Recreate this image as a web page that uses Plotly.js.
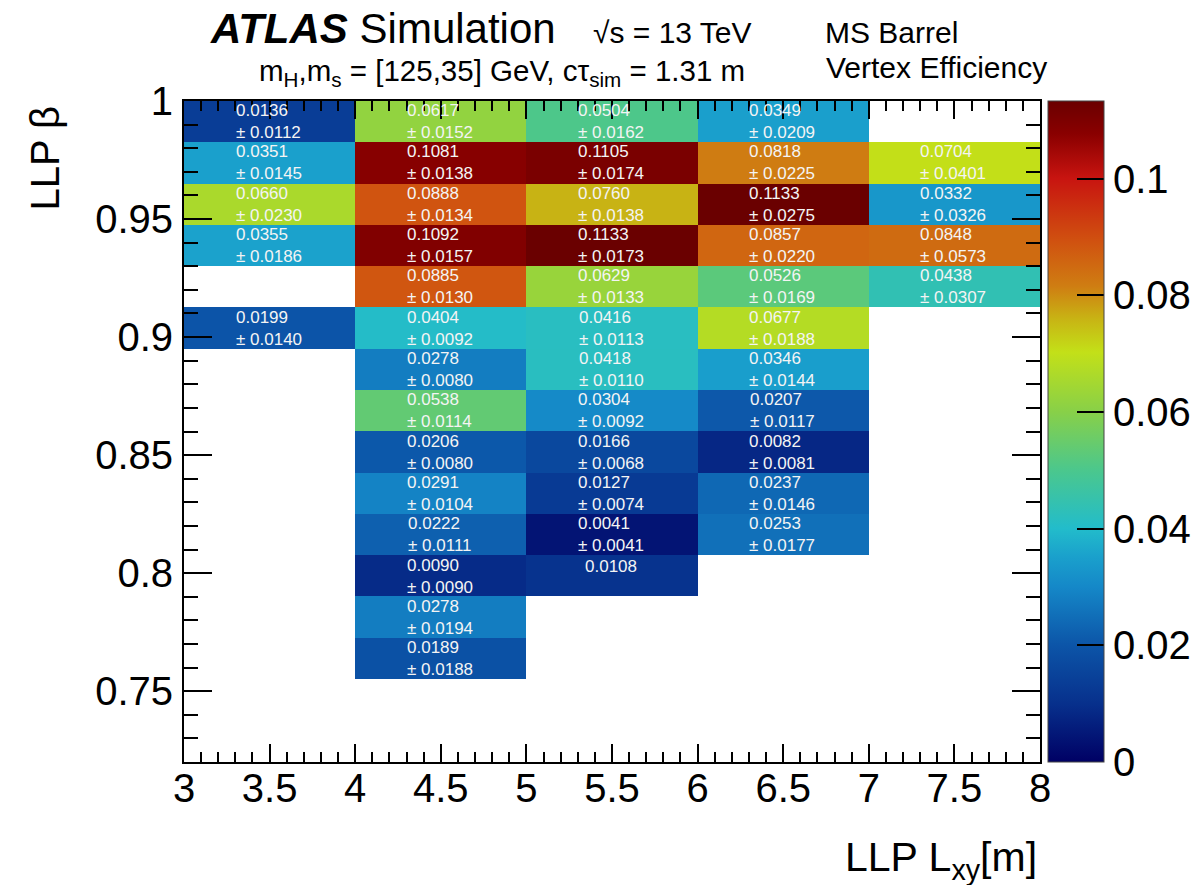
<!DOCTYPE html>
<html>
<head>
<meta charset="utf-8">
<script src="https://cdn.plot.ly/plotly-3.0.1.min.js"></script>
<style>html,body{margin:0;padding:0;background:#fff;}#chart{width:1195px;height:885px;}</style>
</head>
<body>
<div id="chart"></div>
<script>
// Bin edges
const xEdges = [3, 4, 5, 6, 7, 8];
const yEdges = [0.755, 0.7725, 0.79, 0.8075, 0.825, 0.8425, 0.86, 0.8775, 0.895, 0.9125, 0.93, 0.9475, 0.965, 0.9825, 1.0];

// Efficiency values, rows from bottom (beta 0.755) to top (beta 1.0); columns Lxy 3-4 ... 7-8
const effRow01 = [null, 0.0189, null, null, null];
const effRow02 = [null, 0.0278, null, null, null];
const effRow03 = [null, 0.0090, 0.0108, null, null];
const effRow04 = [null, 0.0222, 0.0041, 0.0253, null];
const effRow05 = [null, 0.0291, 0.0127, 0.0237, null];
const effRow06 = [null, 0.0206, 0.0166, 0.0082, null];
const effRow07 = [null, 0.0538, 0.0304, 0.0207, null];
const effRow08 = [null, 0.0278, 0.0418, 0.0346, null];
const effRow09 = [0.0199, 0.0404, 0.0416, 0.0677, null];
const effRow10 = [null, 0.0885, 0.0629, 0.0526, 0.0438];
const effRow11 = [0.0355, 0.1092, 0.1133, 0.0857, 0.0848];
const effRow12 = [0.0660, 0.0888, 0.0760, 0.1133, 0.0332];
const effRow13 = [0.0351, 0.1081, 0.1105, 0.0818, 0.0704];
const effRow14 = [0.0136, 0.0617, 0.0504, 0.0349, null];

// Uncertainties, same layout
const errRow01 = [null, 0.0188, null, null, null];
const errRow02 = [null, 0.0194, null, null, null];
const errRow03 = [null, 0.0090, null, null, null];
const errRow04 = [null, 0.0111, 0.0041, 0.0177, null];
const errRow05 = [null, 0.0104, 0.0074, 0.0146, null];
const errRow06 = [null, 0.0080, 0.0068, 0.0081, null];
const errRow07 = [null, 0.0114, 0.0092, 0.0117, null];
const errRow08 = [null, 0.0080, 0.0110, 0.0144, null];
const errRow09 = [0.0140, 0.0092, 0.0113, 0.0188, null];
const errRow10 = [null, 0.0130, 0.0133, 0.0169, 0.0307];
const errRow11 = [0.0186, 0.0157, 0.0173, 0.0220, 0.0573];
const errRow12 = [0.0230, 0.0134, 0.0138, 0.0275, 0.0326];
const errRow13 = [0.0145, 0.0138, 0.0174, 0.0225, 0.0401];
const errRow14 = [0.0112, 0.0152, 0.0162, 0.0209, null];

const colorTicks = [0, 0.02, 0.04, 0.06, 0.08, 0.1];
const xTicks = [3, 3.5, 4, 4.5, 5, 5.5, 6, 6.5, 7, 7.5, 8];
const yTicks = [0.75, 0.8, 0.85, 0.9, 0.95, 1];

const z = [effRow01, effRow02, effRow03, effRow04, effRow05, effRow06, effRow07,
           effRow08, effRow09, effRow10, effRow11, effRow12, effRow13, effRow14];
const e = [errRow01, errRow02, errRow03, errRow04, errRow05, errRow06, errRow07,
           errRow08, errRow09, errRow10, errRow11, errRow12, errRow13, errRow14];

let zMax = 0;
z.forEach(r => r.forEach(v => { if (v !== null && v > zMax) zMax = v; }));

const FONT = 'Liberation Sans, Arial, Helvetica, sans-serif';

const colorscale = [
  [0.000, '#000064'],
  [0.088, '#07308c'],
  [0.177, '#0c55a8'],
  [0.265, '#1588c8'],
  [0.310, '#1aa0cc'],
  [0.353, '#22bccb'],
  [0.440, '#4ac78e'],
  [0.530, '#88d048'],
  [0.620, '#c3e018'],
  [0.670, '#c8b414'],
  [0.720, '#cf7d12'],
  [0.790, '#d05010'],
  [0.883, '#c81410'],
  [0.950, '#8a0000'],
  [1.000, '#6a0000']
];

const heat = {
  type: 'heatmap',
  x: xEdges,
  y: yEdges,
  z: z,
  zmin: 0,
  zmax: zMax,
  colorscale: colorscale,
  hoverinfo: 'skip',
  showscale: true,
  colorbar: {
    x: 1.0093, xanchor: 'left', xpad: 0,
    y: 0.5, yanchor: 'middle', ypad: 0,
    len: 1, lenmode: 'fraction',
    thickness: 56, thicknessmode: 'pixels',
    outlinewidth: 1, outlinecolor: '#444',
    tickmode: 'array', tickvals: colorTicks,
    ticktext: colorTicks.map(v => String(v)),
    ticks: 'inside', ticklen: 27, tickwidth: 2, tickcolor: '#000',
    tickfont: {family: FONT, size: 40, color: '#000'},
    ticklabelstandoff: 0
  }
};

const annotations = [];
for (let r = 0; r < z.length; r++) {
  for (let c = 0; c < z[r].length; c++) {
    const v = z[r][c];
    if (v === null) continue;
    const err = e[r][c];
    const xc = (xEdges[c] + xEdges[c + 1]) / 2;
    const yc = (yEdges[r] + yEdges[r + 1]) / 2;
    annotations.push({
      x: xc, y: yc, xref: 'x', yref: 'y',
      text: err === null ? v.toFixed(4) : (v.toFixed(4) + '<br>± ' + err.toFixed(4)),
      showarrow: false, align: 'left', xanchor: 'center', yanchor: 'middle',
      xshift: -1,
      yshift: err === null ? 10 : 0,
      font: {family: FONT, size: 17, color: '#f4f4f4'}
    });
  }
}

// Header and axis titles
annotations.push(
  {xref: 'paper', yref: 'paper', x: 0.0285, y: 1.109, xanchor: 'left', yanchor: 'middle', showarrow: false,
   text: '<b><i>ATLAS</i></b> Simulation', font: {family: FONT, size: 42, color: '#000'}},
  {xref: 'paper', yref: 'paper', x: 0.476, y: 1.104, xanchor: 'left', yanchor: 'middle', showarrow: false,
   text: '√s = 13 TeV', font: {family: FONT, size: 30, color: '#000'}},
  {xref: 'paper', yref: 'paper', x: 0.747, y: 1.104, xanchor: 'left', yanchor: 'middle', showarrow: false,
   text: 'MS Barrel', font: {family: FONT, size: 30, color: '#000'}},
  {xref: 'paper', yref: 'paper', x: 0.085, y: 1.043, xanchor: 'left', yanchor: 'middle', showarrow: false,
   text: 'm<sub>H</sub>,m<sub>s</sub> = [125,35] GeV, cτ<sub>sim</sub> = 1.31 m', font: {family: FONT, size: 29.5, color: '#000'}},
  {xref: 'paper', yref: 'paper', x: 0.748, y: 1.051, xanchor: 'left', yanchor: 'middle', showarrow: false,
   text: 'Vertex Efficiency', font: {family: FONT, size: 30, color: '#000'}},
  {xref: 'paper', yref: 'paper', x: -0.1624, y: 0.997, xanchor: 'center', yanchor: 'top', showarrow: false,
   textangle: -90, text: 'LLP β', font: {family: FONT, size: 40, color: '#000'}},
  {xref: 'paper', yref: 'paper', x: 0.999, y: -0.148, xanchor: 'right', yanchor: 'middle', showarrow: false,
   text: 'LLP L<sub>xy</sub>[m]', font: {family: FONT, size: 41, color: '#000'}}
);

const layout = {
  width: 1195, height: 885,
  margin: {l: 184, r: 155, t: 101, b: 123, autoexpand: false},
  paper_bgcolor: '#fff', plot_bgcolor: '#fff',
  showlegend: false,
  xaxis: {
    range: [3, 8], tickmode: 'array', tickvals: xTicks,
    ticktext: xTicks.map(v => String(v)),
    ticks: 'inside', ticklen: 18, tickwidth: 2, tickcolor: '#000',
    minor: {dtick: 0.1, tick0: 3, ticks: 'inside', ticklen: 10, tickwidth: 2, tickcolor: '#000', showgrid: false},
    showline: true, linewidth: 2, linecolor: '#000', mirror: 'ticks',
    showgrid: false, zeroline: false,
    tickfont: {family: FONT, size: 40, color: '#000'},
    ticklabelstandoff: -10
  },
  yaxis: {
    range: [0.72, 1.0], tickmode: 'array', tickvals: yTicks,
    ticktext: yTicks.map(v => String(v)),
    ticks: 'inside', ticklen: 28, tickwidth: 2, tickcolor: '#000',
    minor: {dtick: 0.01, tick0: 0.72, ticks: 'inside', ticklen: 14, tickwidth: 2, tickcolor: '#000', showgrid: false},
    showline: true, linewidth: 2, linecolor: '#000', mirror: 'ticks',
    showgrid: false, zeroline: false,
    tickfont: {family: FONT, size: 40, color: '#000'},
    ticklabelstandoff: 1
  },
  annotations: annotations
};

Plotly.newPlot('chart', [heat], layout, {displayModeBar: false, staticPlot: true});
</script>
</body>
</html>
